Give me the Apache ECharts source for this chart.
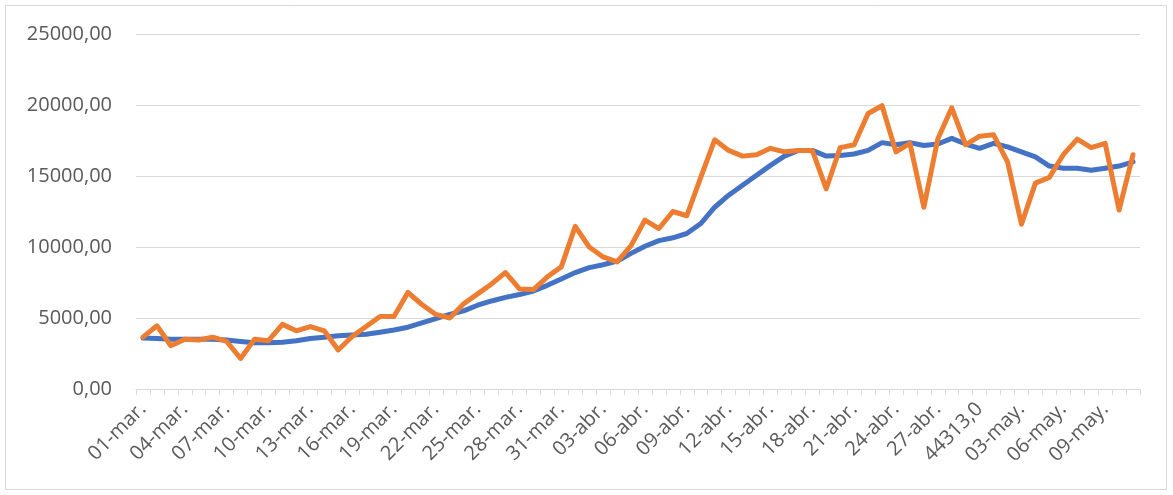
<!DOCTYPE html>
<html>
<head>
<meta charset="utf-8">
<script src="https://cdn.jsdelivr.net/npm/echarts@6/dist/echarts.min.js"></script>
<style>
html,body{margin:0;padding:0;background:#fff;}
#c{width:1173px;height:495px;}
</style>
</head>
<body>
<div id="c"></div>
<script>
const categories = [
  "01-mar.","02-mar.","03-mar.","04-mar.","05-mar.","06-mar.","07-mar.","08-mar.","09-mar.","10-mar.",
  "11-mar.","12-mar.","13-mar.","14-mar.","15-mar.","16-mar.","17-mar.","18-mar.","19-mar.","20-mar.",
  "21-mar.","22-mar.","23-mar.","24-mar.","25-mar.","26-mar.","27-mar.","28-mar.","29-mar.","30-mar.",
  "31-mar.","01-abr.","02-abr.","03-abr.","04-abr.","05-abr.","06-abr.","07-abr.","08-abr.","09-abr.",
  "10-abr.","11-abr.","12-abr.","13-abr.","14-abr.","15-abr.","16-abr.","17-abr.","18-abr.","19-abr.",
  "20-abr.","21-abr.","22-abr.","23-abr.","24-abr.","25-abr.","26-abr.","27-abr.","28-abr.","29-abr.",
  "44313,0","01-may.","02-may.","03-may.","04-may.","05-may.","06-may.","07-may.","08-may.","09-may.",
  "10-may.","11-may."
];
const yTicks = [0, 5000, 10000, 15000, 20000, 25000];
const mediaMovil = [
  3600,3550,3500,3500,3500,3500,3450,3350,3250,3250,
  3300,3400,3550,3650,3750,3800,3850,4000,4150,4350,
  4650,4950,5250,5500,5900,6200,6450,6650,6900,7300,
  7750,8200,8550,8750,9000,9550,10050,10450,10650,10950,
  11650,12800,13650,14350,15050,15750,16400,16800,16800,16400,
  16450,16550,16800,17350,17200,17350,17150,17250,17650,17250,
  16950,17300,17050,16700,16350,15700,15550,15550,15400,15550,
  15700,16000
];
const casosDiarios = [
  3650,4450,3050,3500,3450,3650,3350,2150,3500,3400,
  4550,4100,4400,4100,2750,3700,4400,5100,5100,6800,
  5950,5250,5000,6000,6700,7400,8200,7050,7000,7900,
  8600,11450,10000,9300,8950,10100,11900,11300,12500,12200,
  14900,17550,16800,16400,16500,16950,16700,16800,16800,14100,
  17000,17200,19400,19950,16700,17300,12800,17600,19800,17200,
  17800,17900,16000,11600,14500,14900,16500,17600,17000,17300,
  12600,16500
];

const chart = echarts.init(document.getElementById('c'), null, {renderer:'canvas'});
const font = '"Open Sans", "Liberation Sans", sans-serif';
chart.setOption({
  animation: false,
  backgroundColor: '#ffffff',
  textStyle: {fontFamily: font},
  graphic: [{
    type: 'rect', silent: true,
    shape: {x: 5.5, y: 5.5, width: 1161, height: 484},
    style: {fill: 'none', stroke: '#d9d9d9', lineWidth: 1}
  }],
  grid: {left: 136, right: 33, top: 34, bottom: 106, containLabel: false},
  xAxis: {
    type: 'category',
    data: categories,
    boundaryGap: true,
    axisLine: {show: true, lineStyle: {color: '#d9d9d9', width: 1}},
    axisTick: {show: true, interval: 0, length: 6, lineStyle: {color: '#d9d9d9'}},
    axisLabel: {
      interval: 2, rotate: 45, margin: 17,
      color: '#595959', fontSize: 20, fontFamily: font
    },
    splitLine: {show: false}
  },
  yAxis: {
    type: 'value',
    min: yTicks[0], max: yTicks[yTicks.length - 1], interval: 5000,
    axisLine: {show: false},
    axisTick: {show: false},
    axisLabel: {
      margin: 24, color: '#595959', fontSize: 20, fontFamily: font,
      formatter: v => v.toFixed(2).replace('.', ',')
    },
    splitLine: {lineStyle: {color: '#d9d9d9', width: 1}}
  },
  series: [
    {
      name: 'Media móvil', type: 'line', data: mediaMovil,
      symbol: 'none', smooth: false,
      lineStyle: {color: '#4472C4', width: 5, cap: 'round', join: 'round'},
      itemStyle: {color: '#4472C4'}
    },
    {
      name: 'Casos diarios', type: 'line', data: casosDiarios,
      symbol: 'none', smooth: false,
      lineStyle: {color: '#ED7D31', width: 5, cap: 'round', join: 'round'},
      itemStyle: {color: '#ED7D31'}
    }
  ]
});
</script>
</body>
</html>
